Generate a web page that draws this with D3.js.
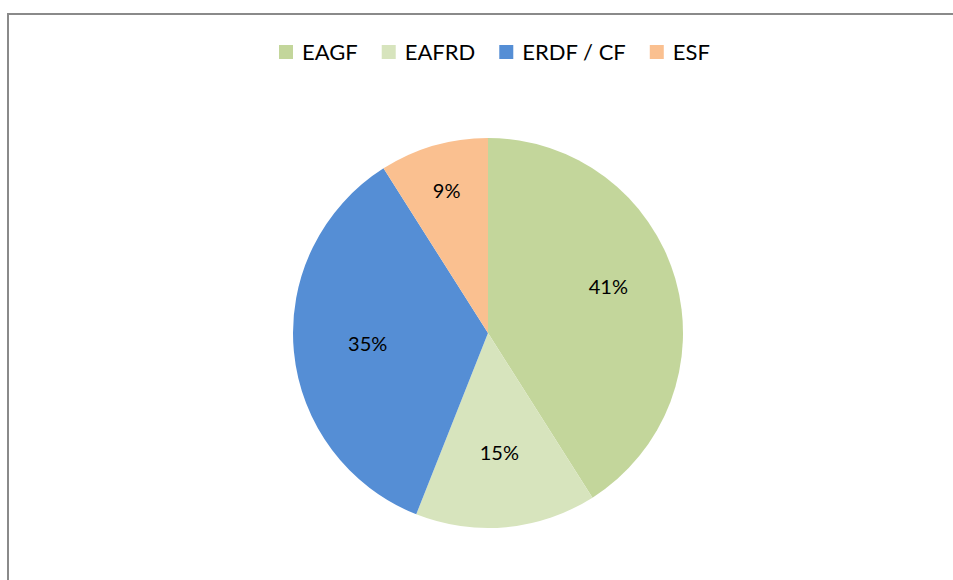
<!DOCTYPE html>
<html>
<head>
<meta charset="utf-8">
<script src="https://cdn.jsdelivr.net/npm/d3@7"></script>
<style>
  body { margin: 0; background: #fff; }
  text { font-family: Lato, "Open Sans", sans-serif; fill: #000; }
</style>
</head>
<body>
<script>
// chart data
var categories = ["EAGF", "EAFRD", "ERDF / CF", "ESF"];
var shares = [41, 15, 35, 9];
var colours = ["#c3d69b", "#d7e4bd", "#558ed5", "#fac090"];

var w = 953;
var h = 580;
var cx = 488, cy = 333, radius = 195;

var svg = d3.select("body")
      .append("svg")
      .attr("width", w)
      .attr("height", h);

// chart frame (only top and left edges fall inside the picture)
svg.append("rect")
      .attr("x", 8)
      .attr("y", 14)
      .attr("width", w + 10)
      .attr("height", h + 10)
      .attr("fill", "none")
      .attr("stroke", "#8a8a8a")
      .attr("stroke-width", 2);

var dataset = categories.map(function(c, i) { return { name: c, value: shares[i] }; });

var colour = d3.scaleOrdinal()
      .domain(categories)
      .range(colours);

var pie = d3.pie()
      .sort(null)
      .value(function(d) { return d.value; });

var arc = d3.arc()
      .innerRadius(0)
      .outerRadius(radius);

var g = svg.append("g")
      .attr("transform", "translate(" + cx + "," + cy + ")");

var arcs = pie(dataset);

g.selectAll("path")
      .data(arcs)
      .enter()
      .append("path")
      .attr("d", arc)
      .attr("fill", function(d) { return colour(d.data.name); });

// labels: small slices get pushed outward a bit, like Excel does
g.selectAll("text.lbl")
      .data(arcs)
      .enter()
      .append("text")
      .attr("class", "lbl")
      .attr("transform", function(d) {
            var r = d.data.value < 10 ? radius * 0.76 : radius * 0.62;
            var a = (d.startAngle + d.endAngle) / 2;
            if (d.data.value > 40) { a -= 0.08; r = radius * 0.66; } // Excel nudges the big one up a bit
            return "translate(" + (Math.sin(a) * r) + "," + (-Math.cos(a) * r) + ")";
      })
      .attr("text-anchor", "middle")
      .attr("dy", "0.35em")
      .attr("font-size", "20px")
      .text(function(d) { return d.data.value + "%"; });

// legend
var legend = svg.append("g").attr("transform", "translate(0,52)");
var lx = 279;
categories.forEach(function(c) {
      var item = legend.append("g").attr("transform", "translate(" + lx + ",0)");
      item.append("rect")
            .attr("x", 0)
            .attr("y", -7)
            .attr("width", 14)
            .attr("height", 14)
            .attr("fill", colour(c));
      var t = item.append("text")
            .attr("x", 23)
            .attr("dy", "0.36em")
            .attr("font-size", "22px")
            .text(c);
      lx += 23 + t.node().getComputedTextLength() + 24;
});
</script>
</body>
</html>
